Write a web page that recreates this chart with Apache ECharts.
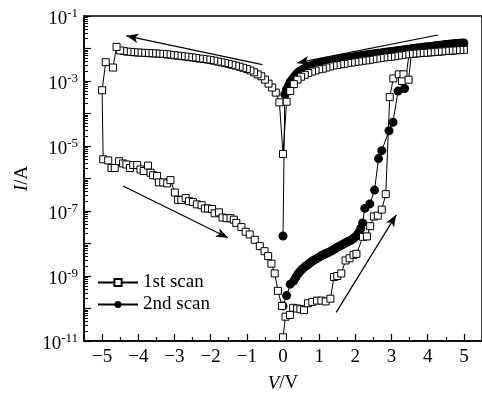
<!DOCTYPE html>
<html>
<head>
<meta charset="utf-8">
<script src="https://cdn.jsdelivr.net/npm/echarts@6/dist/echarts.min.js"></script>
<style>
  html, body { margin: 0; padding: 0; background: #fff; }
  #chart { width: 482px; height: 398px; }
</style>
</head>
<body>
<div id="chart"></div>
<script>
// I–V sweeps: 1st scan 0 → +5 → 0 → −5 → 0 V, 2nd scan 0 → +5 → 0 V
const scan1V = [
  0, 0.07, 0.19, 0.28, 0.39, 0.48, 0.58, 0.69, 0.81, 0.94, 1.06, 1.18, 1.31, 1.41, 1.5, 1.61, 1.73, 1.84, 1.95, 2.03,
  2.21, 2.32, 2.41, 2.51, 2.62, 2.73, 2.84, 2.95, 3.05, 3.2, 3.29, 3.33, 3.47, 3.55,
  3.6, 3.7, 3.8, 3.9, 4.0, 4.1, 4.2, 4.3, 4.4, 4.5, 4.6, 4.7, 4.8, 4.9, 5.0,
  4.9, 4.8, 4.7, 4.6, 4.5, 4.4, 4.3, 4.2, 4.1, 4.0, 3.9, 3.8, 3.7, 3.6, 3.5, 3.4, 3.3, 3.2, 3.1, 3.0,
  2.9, 2.8, 2.7, 2.6, 2.5, 2.4, 2.3, 2.2, 2.1, 2.0, 1.9, 1.8, 1.7, 1.6, 1.5, 1.4, 1.3, 1.2, 1.1, 1.0,
  0.9, 0.8, 0.7, 0.6, 0.5, 0.4, 0.3, 0.2, 0.1, 0.0,
  -0.1, -0.2, -0.3, -0.4, -0.5, -0.6, -0.7, -0.8, -0.9, -1.0, -1.1, -1.2, -1.3, -1.4, -1.5, -1.6, -1.7, -1.8, -1.9, -2.0,
  -2.1, -2.2, -2.3, -2.4, -2.5, -2.6, -2.7, -2.8, -2.9, -3.0, -3.1, -3.2, -3.3, -3.4, -3.5, -3.6, -3.7, -3.8, -3.9, -4.0,
  -4.1, -4.2, -4.3, -4.4, -4.5, -4.6, -4.7, -4.9, -5.0,
  -4.97, -4.83, -4.74, -4.65, -4.53, -4.42, -4.33, -4.23, -4.14, -4.03, -3.94, -3.85, -3.73, -3.66, -3.59, -3.48, -3.43,
  -3.31, -3.2, -3.11, -2.99, -2.9, -2.81, -2.69, -2.6, -2.49, -2.38, -2.25, -2.16, -2.07, -1.96, -1.89, -1.77, -1.67,
  -1.56, -1.45, -1.36, -1.29, -1.15, -1.03, -0.92, -0.78, -0.64, -0.51, -0.41, -0.32, -0.23, -0.14, -0.03
];
const scan1I = [
  1.3e-11, 5.6e-11, 6.3e-11, 1.05e-10, 1.0e-10, 9.5e-11, 8.9e-11, 1.45e-10, 1.6e-10, 1.75e-10, 1.75e-10, 1.65e-10, 2.0e-10, 9.3e-10, 1.0e-9, 1.2e-9, 3.0e-9, 3.5e-9, 4.5e-9, 4.8e-9,
  1.6e-8, 1.65e-8, 3.4e-8, 6.8e-8, 7.2e-8, 1.1e-7, 3.3e-7, 3.2e-4, 1.2e-3, 1.6e-3, 1.0e-3, 1.6e-3, 1.1e-3, 6.9e-3,
  7.0e-3, 7.1e-3, 7.3e-3, 7.4e-3, 7.6e-3, 7.7e-3, 7.9e-3, 8.1e-3, 8.2e-3, 8.5e-3, 8.6e-3, 8.7e-3, 8.9e-3, 9.0e-3, 9.1e-3,
  9.0e-3, 8.9e-3, 8.7e-3, 8.6e-3, 8.5e-3, 8.2e-3, 8.1e-3, 7.9e-3, 7.7e-3, 7.6e-3, 7.4e-3, 7.3e-3, 7.1e-3, 7.0e-3, 6.8e-3, 6.6e-3, 6.3e-3, 6.1e-3, 5.8e-3, 5.6e-3,
  5.5e-3, 5.3e-3, 5.1e-3, 4.9e-3, 4.7e-3, 4.5e-3, 4.3e-3, 4.2e-3, 4.0e-3, 3.9e-3, 3.7e-3, 3.6e-3, 3.4e-3, 3.3e-3, 3.1e-3, 3.0e-3, 2.8e-3, 2.6e-3, 2.4e-3, 2.3e-3,
  2.1e-3, 1.95e-3, 1.75e-3, 1.55e-3, 1.35e-3, 1.1e-3, 8.0e-4, 4.9e-4, 2.3e-4, 5.7e-6,
  2.2e-4, 4.4e-4, 6.3e-4, 8.3e-4, 1.1e-3, 1.4e-3, 1.6e-3, 1.85e-3, 2.1e-3, 2.35e-3, 2.55e-3, 2.75e-3, 2.95e-3, 3.15e-3, 3.35e-3, 3.55e-3, 3.75e-3, 3.95e-3, 4.2e-3, 4.4e-3,
  4.6e-3, 4.75e-3, 4.9e-3, 5.1e-3, 5.3e-3, 5.45e-3, 5.65e-3, 5.85e-3, 6.0e-3, 6.2e-3, 6.4e-3, 6.6e-3, 6.75e-3, 6.9e-3, 7.0e-3, 7.1e-3, 7.2e-3, 7.3e-3, 7.4e-3, 7.5e-3,
  7.65e-3, 7.8e-3, 8.0e-3, 8.3e-3, 8.7e-3, 1.12e-2, 2.6e-3, 3.8e-3, 5.2e-4,
  3.9e-6, 3.6e-6, 2.1e-6, 2.1e-6, 3.4e-6, 2.9e-6, 2.7e-6, 2.1e-6, 2.6e-6, 2.6e-6, 1.9e-6, 1.7e-6, 2.5e-6, 1.5e-6, 1.26e-6, 1.2e-6, 7.6e-7,
  7.6e-7, 7.1e-7, 8.9e-7, 3.7e-7, 2.2e-7, 2.2e-7, 2.5e-7, 2.0e-7, 1.9e-7, 1.6e-7, 1.5e-7, 1.2e-7, 1.2e-7, 1.15e-7, 8.5e-8, 9.1e-8, 6.3e-8,
  6.0e-8, 6.0e-8, 5.4e-8, 4.3e-8, 3.2e-8, 2.3e-8, 1.9e-8, 1.3e-8, 8.3e-9, 5.8e-9, 4.1e-9, 2.4e-9, 1.2e-9, 3.5e-10, 1.2e-10
];

const scan2V = [
  0, 0.1, 0.2, 0.3, 0.35, 0.4, 0.45, 0.5, 0.55, 0.6, 0.65, 0.7, 0.75, 0.8, 0.85, 0.9, 0.95, 1.0,
  1.05, 1.1, 1.15, 1.2, 1.25, 1.3, 1.35, 1.4, 1.45, 1.5, 1.55, 1.6, 1.65, 1.7, 1.75, 1.8, 1.85, 1.9, 1.95, 2.0,
  2.05, 2.1, 2.15, 2.2,
  2.26, 2.4, 2.53, 2.64, 2.73, 2.93, 3.04, 3.18, 3.36, 3.5,
  3.6, 3.7, 3.8, 3.9, 4.0, 4.1, 4.2, 4.3, 4.4, 4.5, 4.6, 4.7, 4.8, 4.9, 5.0,
  4.95, 4.9, 4.85, 4.8, 4.75, 4.7, 4.65, 4.6, 4.55, 4.5, 4.45, 4.4, 4.35, 4.3, 4.25, 4.2, 4.15, 4.1, 4.05, 4.0,
  3.95, 3.9, 3.85, 3.8, 3.75, 3.7, 3.65, 3.6, 3.55, 3.5, 3.45, 3.4, 3.35, 3.3, 3.25, 3.2, 3.15, 3.1, 3.05, 3.0,
  2.95, 2.9, 2.85, 2.8, 2.75, 2.7, 2.65, 2.6, 2.55, 2.5, 2.45, 2.4, 2.35, 2.3, 2.25, 2.2, 2.15, 2.1, 2.05, 2.0,
  1.95, 1.9, 1.85, 1.8, 1.75, 1.7, 1.65, 1.6, 1.55, 1.5, 1.45, 1.4, 1.35, 1.3, 1.25, 1.2, 1.15, 1.1, 1.05, 1.0,
  0.95, 0.9, 0.85, 0.8, 0.75, 0.7, 0.65, 0.6, 0.55, 0.5, 0.45, 0.4, 0.35, 0.3, 0.25, 0.2, 0.15, 0.1, 0.05, 0.0
];
const scan2I = [
  1.2e-10, 2.5e-10, 5.6e-10, 7.1e-10, 8.9e-10, 1.1e-9, 1.3e-9, 1.5e-9, 1.7e-9, 1.9e-9, 2.1e-9, 2.3e-9, 2.55e-9, 2.8e-9, 3.05e-9, 3.3e-9, 3.55e-9, 3.8e-9,
  4.1e-9, 4.4e-9, 4.7e-9, 5.0e-9, 5.3e-9, 5.6e-9, 6.0e-9, 6.5e-9, 7.0e-9, 7.6e-9, 8.1e-9, 8.7e-9, 9.3e-9, 1.0e-8, 1.07e-8, 1.15e-8, 1.22e-8, 1.3e-8, 1.45e-8, 1.6e-8,
  1.85e-8, 2.2e-8, 2.9e-8, 4.3e-8,
  1.2e-7, 1.65e-7, 4.4e-7, 4.1e-6, 7.2e-6, 2.95e-5, 5.4e-5, 4.9e-4, 5.9e-4, 9.5e-3,
  1.0e-2, 1.02e-2, 1.05e-2, 1.1e-2, 1.12e-2, 1.15e-2, 1.2e-2, 1.23e-2, 1.26e-2, 1.32e-2, 1.35e-2, 1.38e-2, 1.41e-2, 1.45e-2, 1.48e-2,
  1.46e-2, 1.45e-2, 1.43e-2, 1.41e-2, 1.4e-2, 1.38e-2, 1.36e-2, 1.35e-2, 1.33e-2, 1.32e-2, 1.29e-2, 1.26e-2, 1.25e-2, 1.23e-2, 1.21e-2, 1.2e-2, 1.17e-2, 1.15e-2, 1.13e-2, 1.12e-2,
  1.11e-2, 1.1e-2, 1.07e-2, 1.05e-2, 1.03e-2, 1.02e-2, 1.01e-2, 1.0e-2, 9.7e-3, 9.5e-3, 9.4e-3, 9.3e-3, 9.1e-3, 8.9e-3, 8.8e-3, 8.7e-3, 8.5e-3, 8.3e-3, 8.2e-3, 8.1e-3,
  7.9e-3, 7.8e-3, 7.7e-3, 7.6e-3, 7.4e-3, 7.2e-3, 7.15e-3, 7.1e-3, 6.9e-3, 6.8e-3, 6.7e-3, 6.6e-3, 6.45e-3, 6.3e-3, 6.15e-3, 6.0e-3, 5.95e-3, 5.9e-3, 5.75e-3, 5.6e-3,
  5.5e-3, 5.4e-3, 5.3e-3, 5.2e-3, 5.1e-3, 5.0e-3, 4.9e-3, 4.8e-3, 4.7e-3, 4.6e-3, 4.5e-3, 4.4e-3, 4.3e-3, 4.2e-3, 4.1e-3, 4.0e-3, 3.9e-3, 3.8e-3, 3.65e-3, 3.5e-3,
  3.4e-3, 3.3e-3, 3.15e-3, 3.0e-3, 2.9e-3, 2.75e-3, 2.6e-3, 2.45e-3, 2.3e-3, 2.1e-3, 1.95e-3, 1.75e-3, 1.55e-3, 1.3e-3, 1.1e-3, 9.3e-4, 7.2e-4, 5.6e-4, 3.9e-4, 1.7e-8
];

// Axis labels
const xLabels = [-5, -4, -3, -2, -1, 0, 1, 2, 3, 4, 5];
const yLabelExponents = [-11, -9, -7, -5, -3, -1];

// Sweep-direction arrows, in data coordinates [V, I]
const sweepArrows = [
  { from: [-0.57, 3.2e-3], to: [-4.33, 2.45e-2], curveness: -0.08 },
  { from: [4.28, 2.6e-2], to: [0.39, 3.6e-3], curveness: -0.2 },
  { from: [-4.42, 5.9e-7], to: [-1.52, 1.5e-8], curveness: 0 },
  { from: [1.47, 7.6e-11], to: [3.13, 7.6e-8], curveness: 0 }
];

const FONT = '"Liberation Serif", "Times New Roman", serif';
const FS = 19;

const xMinorTicks = [];
for (let k = -11; k <= 11; k += 2) xMinorTicks.push(k / 2);
const yMajorTicks = [];
const yMinorTicks = [];
for (let e = -11; e <= -1; e++) {
  yMajorTicks.push(Number('1e' + e));
  if (e < -1) for (let m = 2; m <= 9; m++) yMinorTicks.push(Number(m + 'e' + e));
}
const yLabelValues = yLabelExponents.map(e => Number('1e' + e));

const pairs = (xs, ys) => xs.map((v, i) => [v, ys[i]]);

const chart = echarts.init(document.getElementById('chart'), null, { renderer: 'canvas' });

const axisLineStyle = { color: '#000', width: 1.5 };
const italic = { fontStyle: 'italic', fontFamily: FONT, fontSize: FS, color: '#000' };

chart.setOption({
  animation: false,
  backgroundColor: '#fff',
  textStyle: { fontFamily: FONT },
  grid: {
    left: 84, top: 16, width: 398, height: 328,
    show: true, borderColor: '#000', borderWidth: 1.5, backgroundColor: 'transparent'
  },
  legend: {
    data: ['1st scan', '2nd scan'],
    orient: 'vertical',
    left: 97, top: 273, padding: 0,
    itemWidth: 40, itemHeight: 9, itemGap: 3,
    textStyle: { fontFamily: FONT, fontSize: FS, color: '#000' }
  },
  xAxis: [
    {
      type: 'value', min: -5.5, max: 5.5, position: 'bottom',
      axisLine: { show: true, onZero: false, lineStyle: axisLineStyle },
      axisTick: { show: true, inside: true, length: 7, customValues: xLabels, lineStyle: { color: '#000', width: 1.2 } },
      axisLabel: {
        customValues: xLabels, margin: 7, color: '#000', fontFamily: FONT, fontSize: FS,
        formatter: v => String(v).replace('-', '\u2212')
      },
      splitLine: { show: false },
      name: '{i|V}/V', nameLocation: 'middle', nameGap: 33,
      nameTextStyle: { color: '#000', fontFamily: FONT, fontSize: FS, rich: { i: italic } }
    },
    {
      type: 'value', min: -5.5, max: 5.5, position: 'bottom',
      axisLine: { show: false, onZero: false },
      axisTick: { show: true, inside: true, length: 4, customValues: xMinorTicks, lineStyle: { color: '#000', width: 1.2 } },
      axisLabel: { show: false },
      splitLine: { show: false }
    }
  ],
  yAxis: [
    {
      type: 'log', logBase: 10, min: 1e-11, max: 1e-1, position: 'left',
      axisLine: { show: true, onZero: false, lineStyle: axisLineStyle },
      axisTick: { show: true, inside: true, length: 7, customValues: yMajorTicks, lineStyle: { color: '#000', width: 1.2 } },
      axisLabel: {
        customValues: yLabelValues, margin: 6, color: '#000', padding: [7, 0, 0, 0],
        formatter: v => '{b|10}{s|' + Math.round(Math.log10(v)) + '}',
        rich: {
          b: { fontFamily: FONT, fontSize: FS, color: '#000', lineHeight: 24 },
          s: { fontFamily: FONT, fontSize: 13, color: '#000', lineHeight: 8, verticalAlign: 'top' }
        }
      },
      splitLine: { show: false },
      name: '{i|I}/A', nameLocation: 'middle', nameGap: 47, nameRotate: 90,
      nameTextStyle: { color: '#000', fontFamily: FONT, fontSize: FS, rich: { i: italic } }
    },
    {
      type: 'log', logBase: 10, min: 1e-11, max: 1e-1, position: 'left',
      axisLine: { show: false, onZero: false },
      axisTick: { show: true, inside: true, length: 4, customValues: yMinorTicks, lineStyle: { color: '#000', width: 1 } },
      axisLabel: { show: false },
      splitLine: { show: false }
    }
  ],
  series: [
    {
      name: '2nd scan', type: 'line', xAxisIndex: 0, yAxisIndex: 0,
      data: pairs(scan2V, scan2I),
      symbol: 'circle', symbolSize: 9, showAllSymbol: true,
      itemStyle: { color: '#000' },
      lineStyle: { color: '#000', width: 1 },
      z: 2
    },
    {
      name: '1st scan', type: 'line', xAxisIndex: 0, yAxisIndex: 0,
      data: pairs(scan1V, scan1I),
      symbol: 'rect', symbolSize: 7, showAllSymbol: true,
      itemStyle: { color: '#fff', borderColor: '#000', borderWidth: 1 },
      lineStyle: { color: '#000', width: 1 },
      z: 3,
      markLine: {
        silent: true, animation: false,
        symbol: ['none', 'arrow'], symbolSize: [7, 12],
        label: { show: false },
        lineStyle: { color: '#000', width: 1.2, type: 'solid' },
        emphasis: { disabled: true },
        data: sweepArrows.map(a => [
          { coord: a.from, lineStyle: { curveness: a.curveness } },
          { coord: a.to }
        ])
      }
    }
  ]
});
</script>
</body>
</html>
